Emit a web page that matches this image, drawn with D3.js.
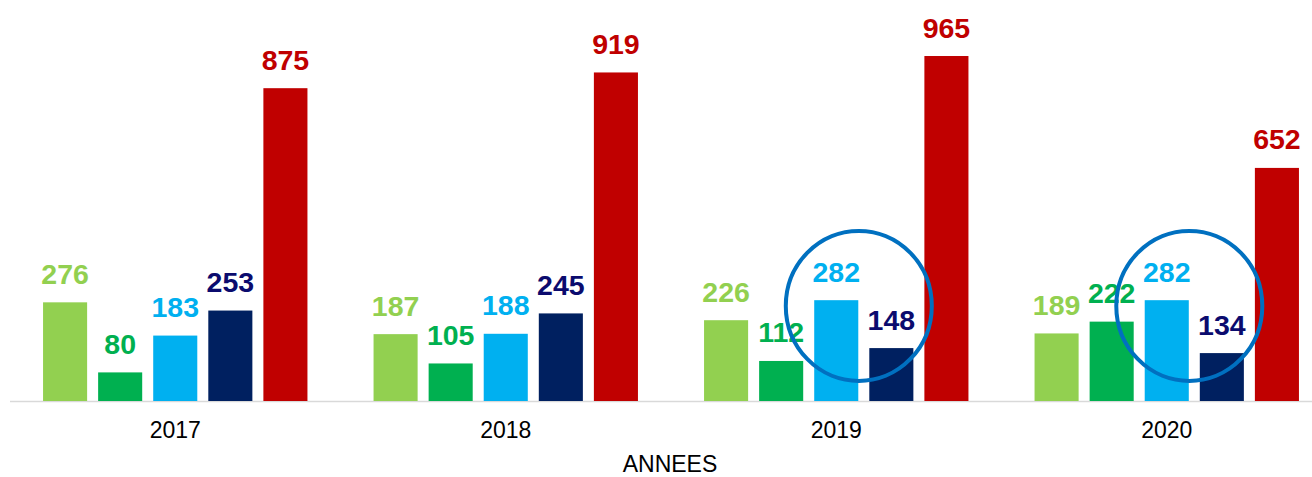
<!DOCTYPE html>
<html>
<head>
<meta charset="utf-8">
<script src="https://cdn.jsdelivr.net/npm/d3@7"></script>
<style>
  html, body { margin: 0; padding: 0; background: #fff; }
  svg { display: block; font-family: "Liberation Sans", Arial, sans-serif; }
</style>
</head>
<body>
<svg id="chart"></svg>
<script>
const years = ["2017", "2018", "2019", "2020"];
const seriesKeys = ["s1", "s2", "s3", "s4", "s5"];
const s1 = [276, 187, 226, 189];
const s2 = [80, 105, 112, 222];
const s3 = [183, 188, 282, 282];
const s4 = [253, 245, 148, 134];
const s5 = [875, 919, 965, 652];
const highlighted = ["2019", "2020"];

const barColors = ["#92D050", "#00B050", "#00B0F0", "#002060", "#C00000"];
const labelColors = ["#92D050", "#00B050", "#00B0F0", "#0b0b6e", "#C00000"];

const width = 1312;
const height = 477;
const baseY = 401;

const seriesValues = [s1, s2, s3, s4, s5];
const rows = years.map((yr, i) => ({
  year: yr,
  values: seriesKeys.map((k, j) => ({ key: k, idx: j, value: seriesValues[j][i] }))
}));

const svg = d3.select("#chart")
    .attr("width", width)
    .attr("height", height);

let x0 = d3.scaleBand()
    .domain(years)
    .range([10, 1332]);

let x1 = d3.scaleBand()
    .domain(seriesKeys)
    .range([0, x0.bandwidth()])
    .paddingInner(0.2)
    .paddingOuter(0.6);

let y = d3.scaleLinear()
    .domain([0, 1000])
    .range([baseY, baseY - 357.5]);

// baseline
svg.append("line")
    .attr("x1", 10)
    .attr("x2", width)
    .attr("y1", baseY + 0.5)
    .attr("y2", baseY + 0.5)
    .attr("stroke", "#d9d9d9")
    .attr("stroke-width", 1.5);

const groups = svg.selectAll("g.year")
  .data(rows)
  .enter()
  .append("g")
    .attr("class", "year")
    .attr("transform", d => `translate(${x0(d.year)}, 0)`);

groups.selectAll("rect")
  .data(d => d.values)
  .enter()
  .append("rect")
    .attr("x", d => x1(d.key))
    .attr("y", d => y(d.value))
    .attr("width", x1.bandwidth())
    .attr("height", d => baseY - y(d.value))
    .attr("fill", d => barColors[d.idx]);

groups.selectAll("text.val")
  .data(d => d.values)
  .enter()
  .append("text")
    .attr("class", "val")
    .attr("x", d => x1(d.key) + x1.bandwidth() / 2)
    .attr("y", d => y(d.value) - 18.5)
    .attr("text-anchor", "middle")
    .attr("font-size", "28.5px")
    .attr("font-weight", "bold")
    .attr("fill", d => labelColors[d.idx])
    .text(d => d.value);

// x axis labels
let xAxis = d3.axisBottom(x0).tickSize(0).tickPadding(0);
const axisG = svg.append("g")
    .attr("transform", `translate(0, ${baseY})`)
    .call(xAxis);
axisG.select(".domain").remove();
axisG.selectAll("text")
    .attr("dy", null)
    .attr("y", 37)
    .attr("font-size", "23px")
    .attr("font-family", "Liberation Sans, Arial, sans-serif")
    .attr("fill", "#000");

svg.append("text")
    .attr("x", 670)
    .attr("y", 472)
    .attr("text-anchor", "middle")
    .attr("font-size", "23px")
    .attr("fill", "#000")
    .text("ANNEES");

// highlight ellipses around the 3rd and 4th bars
highlighted.forEach(yr => {
  const cx = x0(yr) + (x1("s3") + x1("s4") + x1.bandwidth()) / 2 - 5;
  svg.append("ellipse")
      .attr("cx", cx)
      .attr("cy", y(266))
      .attr("rx", 73)
      .attr("ry", 75)
      .attr("fill", "none")
      .attr("stroke", "#0070C0")
      .attr("stroke-width", 4);
});
</script>
</body>
</html>
